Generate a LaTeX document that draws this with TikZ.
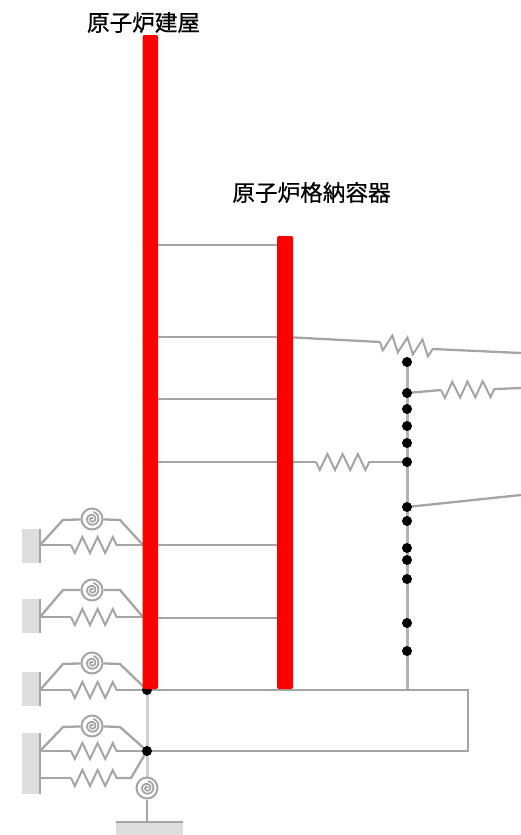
\documentclass[tikz,border=0pt]{standalone}
\usepackage{fontspec}
\usepackage{xcolor}
\usetikzlibrary{decorations.pathmorphing}
\usetikzlibrary{backgrounds}
\newfontfamily\cjk[FakeBold=0.6]{Noto Sans CJK JP}
\definecolor{barred}{RGB}{255,0,0}
\definecolor{linegray}{RGB}{165,165,165}
\definecolor{wallgray}{RGB}{222,222,222}
\tikzset{
  linkline/.style={draw=linegray, line width=2.3pt},
  springline/.style={linkline, line width=2pt, decorate, decoration={zigzag, segment length=15.2pt, amplitude=8pt, mirror}},
  dotnode/.style={circle, fill=black, inner sep=0pt, minimum width=10pt, minimum height=9pt},
  spiralnode/.style={circle, draw=linegray, line width=2pt, inner sep=0pt, minimum size=21pt,
    path picture={\draw[linegray, line width=1.8pt, shift={(path picture bounding box.center)}]
      plot[domain=0:800, samples=60, smooth] ({\x:(0.3pt+\x*0.0085pt)});}},
  labelnode/.style={font=\cjk\fontsize{22.6}{26}\selectfont, text=black, inner sep=0pt}
}
\begin{document}
\begin{tikzpicture}[x=1pt,y=-1pt]
    \useasboundingbox (0,0) rectangle (521,835);
    % points
    \node[dotnode] (b1) at (147,690) {};
    \node[dotnode] (b2) at (147,751) {};
    \node[spiralnode] (s0) at (147,788) {};
    \coordinate (g0) at (147,822);
    \coordinate (f1) at (468,690);
    \coordinate (f2) at (468,751);
    \coordinate (f3) at (407,690);
    \node[dotnode] (d1) at (407,362) {};
    \node[dotnode] (d2) at (407,393) {};
    \node[dotnode] (d3) at (407,409) {};
    \node[dotnode] (d4) at (407,426) {};
    \node[dotnode] (d5) at (407,443) {};
    \node[dotnode] (d6) at (407,462) {};
    \node[dotnode] (d7) at (407,507) {};
    \node[dotnode] (d8) at (407,521) {};
    \node[dotnode] (d9) at (407,548) {};
    \node[dotnode] (d10) at (407,560) {};
    \node[dotnode] (d11) at (407,579) {};
    \node[dotnode] (d12) at (407,623) {};
    \node[dotnode] (d13) at (407,651) {};
    \node[spiralnode] (s1) at (92,519) {};
    \node[spiralnode] (s2) at (92,590) {};
    \node[spiralnode] (s3) at (92,663) {};
    \node[spiralnode] (s4) at (92,726) {};
    \begin{scope}[on background layer]
    % supports
    \fill[wallgray] (22,529) rectangle (40,563);
    \fill[wallgray] (22,599) rectangle (40,633);
    \fill[wallgray] (22,672) rectangle (40,706);
    \fill[wallgray] (22,733) rectangle (40,794);
    \fill[wallgray] (116,822) rectangle (183,835);
    \draw[linkline, line width=1.5pt, draw=gray!70] (40,529)--(40,563);
    \draw[linkline, line width=1.5pt, draw=gray!70] (40,599)--(40,633);
    \draw[linkline, line width=1.5pt, draw=gray!70] (40,672)--(40,706);
    \draw[linkline, line width=1.5pt, draw=gray!70] (40,733)--(40,794);
    \draw[linkline] (116,822)--(183,822);
    % radier
    \draw[linkline, line width=3pt, draw=linegray!85] (f3)--(d1.center);
    \draw[linkline] (b1.center)--(f1)--(f2)--(b2.center);
    \draw[linkline, line width=3pt, draw=wallgray!85!gray] (b1.center)--(b2.center)--(s0);
    \draw[linkline] (s0)--(g0);
    % barreaux
    \coordinate (r1a) at (150,245); \coordinate (r1b) at (285,245);
    \coordinate (r2a) at (150,337); \coordinate (r2b) at (285,337);
    \coordinate (r3a) at (150,399); \coordinate (r3b) at (285,399);
    \coordinate (r4a) at (150,462); \coordinate (r4b) at (285,462);
    \coordinate (r5a) at (150,545); \coordinate (r5b) at (285,545);
    \coordinate (r6a) at (150,618); \coordinate (r6b) at (285,618);
    \draw[linkline] (r1a)--(r1b);
    \draw[linkline] (r2a)--(r2b);
    \draw[linkline] (r3a)--(r3b);
    \draw[linkline] (r4a)--(r4b);
    \draw[linkline] (r5a)--(r5b);
    \draw[linkline] (r6a)--(r6b);
    % ressorts a droite
    \coordinate (t1) at (380,342); \coordinate (t2) at (433,349); \coordinate (t3) at (521,353);
    \draw[linkline] (r2b)--(t1); \draw[springline] (t1)--(t2); \draw[linkline] (t2)--(t3);
    \coordinate (u1) at (441,390); \coordinate (u2) at (496,389); \coordinate (u3) at (521,388);
    \draw[linkline] (d2.center)--(u1); \draw[springline] (u1)--(u2); \draw[linkline] (u2)--(u3);
    \coordinate (v1) at (316,462); \coordinate (v2) at (370,462);
    \draw[linkline] (r4b)--(v1); \draw[springline] (v1)--(v2); \draw[linkline] (v2)--(d6.center);
    \coordinate (w1) at (521,495);
    \draw[linkline] (d7.center)--(w1);
    % rangee 1
    \coordinate (a1) at (40,545); \coordinate (a2) at (71,545); \coordinate (a3) at (117,545); \coordinate (a4) at (143,545);
    \coordinate (a5) at (63,520); \coordinate (a6) at (120,520);
    \draw[linkline] (a1)--(a2); \draw[springline] (a2)--(a3); \draw[linkline] (a3)--(a4);
    \draw[linkline] (a1)--(a5)--(s1)--(a6)--(a4);
    % rangee 2
    \coordinate (e1) at (40,617); \coordinate (e2) at (71,617); \coordinate (e3) at (117,617); \coordinate (e4) at (143,617);
    \coordinate (e5) at (63,590); \coordinate (e6) at (120,590);
    \draw[linkline] (e1)--(e2); \draw[springline] (e2)--(e3); \draw[linkline] (e3)--(e4);
    \draw[linkline] (e1)--(e5)--(s2)--(e6)--(e4);
    % rangee 3
    \coordinate (h1) at (40,690); \coordinate (h2) at (71,690); \coordinate (h3) at (117,690);
    \coordinate (h5) at (63,664); \coordinate (h6) at (120,664);
    \draw[linkline] (h1)--(h2); \draw[springline] (h2)--(h3); \draw[linkline] (h3)--(b1.center);
    \draw[linkline] (h1)--(h5)--(s3)--(h6)--(b1.center);
    % rangee 4
    \coordinate (k1) at (40,751); \coordinate (k2) at (71,751); \coordinate (k3) at (117,751);
    \coordinate (k5) at (63,727); \coordinate (k6) at (120,727);
    \coordinate (k7) at (40,778); \coordinate (k8) at (71,778); \coordinate (k9) at (117,778); \coordinate (k10) at (131,778);
    \draw[linkline] (k1)--(k2); \draw[springline] (k2)--(k3); \draw[linkline] (k3)--(b2.center);
    \draw[linkline] (k1)--(k5)--(s4)--(k6)--(b2.center);
    \draw[linkline] (k7)--(k8); \draw[springline] (k8)--(k9); \draw[linkline] (k9)--(k10)--(b2.center);
    \end{scope}
    % parois
    \fill[barred, rounded corners=2pt] (142.5,35) rectangle (158,689);
    \fill[barred, rounded corners=2pt] (277,236) rectangle (293,689);
    % titres
    \node[labelnode] (reactor) at (143.5,22.5) {原子炉建屋};
    \node[labelnode] (vessel) at (311.5,192.5) {原子炉格納容器};
\end{tikzpicture}
\end{document}
